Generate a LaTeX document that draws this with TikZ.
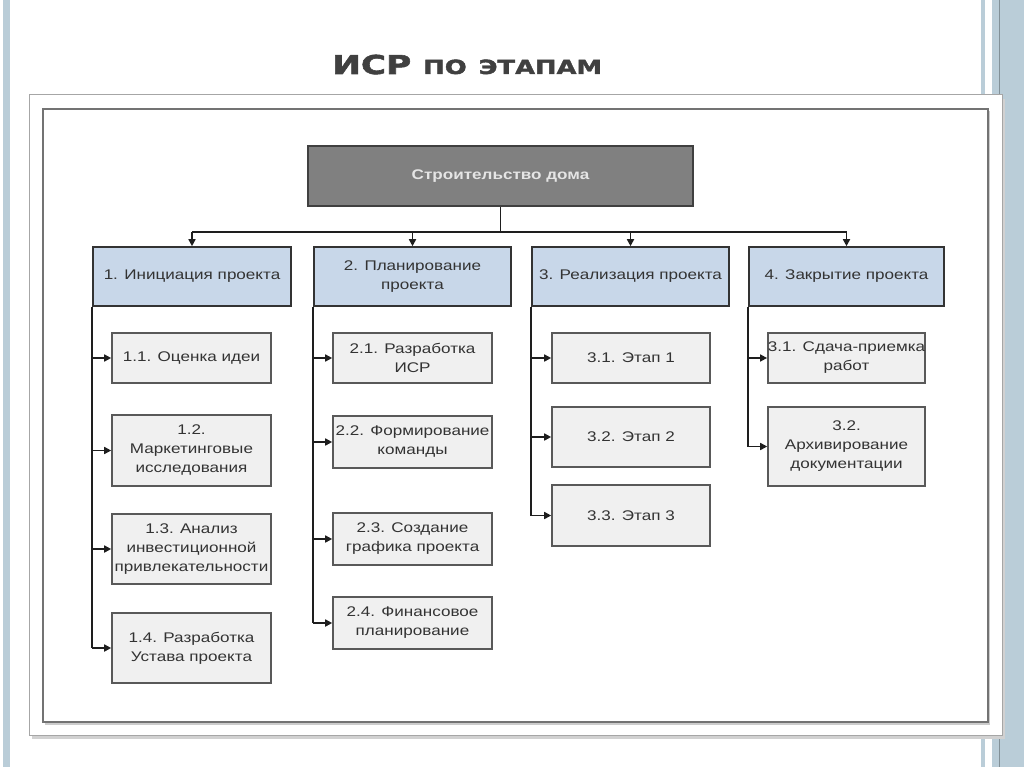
\documentclass[tikz,border=0pt]{standalone}
\usepackage{fontspec}
\setmainfont{Liberation Sans}[FakeStretch=1.22]
\newfontfamily\titlefont{DejaVu Sans}[FakeStretch=1.32,FakeBold=2.2]
\usetikzlibrary{arrows.meta}
\definecolor{stripe}{HTML}{BACDD8}
\definecolor{lvlone}{HTML}{C8D7E9}
\definecolor{lvltwo}{HTML}{F0F0F0}
\definecolor{topfill}{HTML}{808080}
\definecolor{txt}{HTML}{333333}
\definecolor{edge}{HTML}{1E1E1E}
\begin{document}
\begin{tikzpicture}[x=1pt,y=-1pt,
  boxfont/.style={font=\fontsize{14}{19}\selectfont},
  topbox/.style={draw=black!75, fill=topfill, line width=1.6pt, minimum width=385pt,
    minimum height=60pt, inner sep=0pt, text=white!90!black,
    font=\fontsize{14}{19}\selectfont\bfseries, align=center},
  phase/.style={draw=black!80, fill=lvlone, line width=1.6pt, minimum height=59pt,
    inner sep=0pt, text=txt, boxfont, align=center},
  task/.style={draw=black!65, fill=lvltwo, line width=1.6pt, inner sep=0pt,
    text=txt, boxfont, align=center},
  link/.style={draw=edge, line width=1.6pt},
  arr/.style={link, -{Triangle[length=7pt,width=7pt]}}]
\useasboundingbox (0,0) rectangle (1024,767);
\fill[white] (0,0) rectangle (1024,767);
% side stripes
\fill[stripe] (3,0) rectangle (10,767);
\fill[stripe] (981,0) rectangle (985,767);
\fill[stripe] (992,0) rectangle (1024,767);
\draw[stripe!70!black, line width=1pt] (999.5,0) -- (999.5,767);
% frames
\fill[black!18] (32,99) rectangle (1005,739);
\filldraw[fill=white, draw=black!35, line width=1pt] (29,95) rectangle (1002,735);
\fill[black!20] (45,111) rectangle (990,725);
\filldraw[fill=white, draw=black!55, line width=2pt] (43,109) rectangle (988,722);
% title
\node[anchor=base west, inner sep=0pt, text=black!75] (title) at (332,74)
  {\titlefont\bfseries\fontsize{26}{26}\selectfont ИСР\hspace{12pt}\fontsize{19.5}{20}\selectfont ПО\hspace{12pt}ЭТАПАМ};
% nodes
\node[topbox] (top) at (500.5,176) {Строительство дома};
\node[phase, minimum width=198pt] (p1) at (192,276.5) {1. Инициация проекта};
\node[phase, minimum width=197pt] (p2) at (412.5,276.5) {2. Планирование\\проекта};
\node[phase, minimum width=197pt] (p3) at (630.5,276.5) {3. Реализация проекта};
\node[phase, minimum width=195pt] (p4) at (846.5,276.5) {4. Закрытие проекта};
\node[task, minimum width=159pt, minimum height=50pt] (c11) at (191.5,358) {1.1. Оценка идеи};
\node[task, minimum width=159pt, minimum height=71pt] (c12) at (191.5,450.5) {1.2.\\Маркетинговые\\исследования};
\node[task, minimum width=159pt, minimum height=70pt] (c13) at (191.5,549) {1.3. Анализ\\инвестиционной\\привлекательности};
\node[task, minimum width=159pt, minimum height=70pt] (c14) at (191.5,648) {1.4. Разработка\\Устава проекта};
\node[task, minimum width=159pt, minimum height=50pt] (c21) at (412.5,358) {2.1. Разработка\\ИСР};
\node[task, minimum width=159pt, minimum height=52pt] (c22) at (412.5,442) {2.2. Формирование\\команды};
\node[task, minimum width=159pt, minimum height=52pt] (c23) at (412.5,539) {2.3. Создание\\графика проекта};
\node[task, minimum width=159pt, minimum height=52pt] (c24) at (412.5,623) {2.4. Финансовое\\планирование};
\node[task, minimum width=158pt, minimum height=50pt] (c31) at (631,358) {3.1. Этап 1};
\node[task, minimum width=158pt, minimum height=60pt] (c32) at (631,437) {3.2. Этап 2};
\node[task, minimum width=158pt, minimum height=61pt] (c33) at (631,515.5) {3.3. Этап 3};
\node[task, minimum width=157pt, minimum height=50pt] (c41) at (846.5,358) {3.1. Сдача-приемка\\работ};
\node[task, minimum width=157pt, minimum height=79pt] (c42) at (846.5,446.5) {3.2.\\Архивирование\\документации};
% connectors
\coordinate (hub) at (500.5,232);
\draw[link] (top.south) -- (hub);
\draw[link] (p1.north |- hub) -- (p4.north |- hub);
\foreach \p in {p1,p2,p3,p4} \draw[arr] (\p.north |- hub) -- (\p.north);
\draw[link] (p1.south west) -- (p1.south west |- c14.west);
\draw[link] (p2.south west) -- (p2.south west |- c24.west);
\draw[link] (p3.south west) -- (p3.south west |- c33.west);
\draw[link] (p4.south west) -- (p4.south west |- c42.west);
\foreach \c in {c11,c12,c13,c14} \draw[arr] (p1.south west |- \c.west) -- (\c.west);
\foreach \c in {c21,c22,c23,c24} \draw[arr] (p2.south west |- \c.west) -- (\c.west);
\foreach \c in {c31,c32,c33} \draw[arr] (p3.south west |- \c.west) -- (\c.west);
\foreach \c in {c41,c42} \draw[arr] (p4.south west |- \c.west) -- (\c.west);
\end{tikzpicture}
\end{document}
